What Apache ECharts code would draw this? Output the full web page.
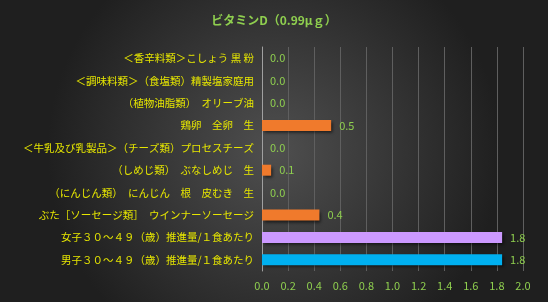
<!DOCTYPE html>
<html><head><meta charset="utf-8">
<script src="https://cdn.jsdelivr.net/npm/echarts@6/dist/echarts.min.js"></script>
<style>html,body{margin:0;padding:0;background:#333}#c{width:548px;height:302px}</style>
</head><body><div id="c"></div>
<script>
const titleText = 'ビタミンD（0.99μｇ）';
const categories = [
  '＜香辛料類＞こしょう 黒 粉',
  '＜調味料類＞（食塩類）精製塩家庭用',
  '（植物油脂類）　オリーブ油',
  '鶏卵　全卵　生',
  '＜牛乳及び乳製品＞（チーズ類）プロセスチーズ',
  '（しめじ類）　ぶなしめじ　生',
  '（にんじん類）　にんじん　根　皮むき　生',
  'ぶた［ソーセージ類］　ウインナーソーセージ',
  '女子３０～４９（歳）推進量/１食あたり',
  '男子３０～４９（歳）推進量/１食あたり'
];
const values = [0, 0, 0, 0.53, 0, 0.07, 0, 0.44, 1.84, 1.84];
const barColors = ['#f07a2c','#f07a2c','#f07a2c','#f07a2c','#f07a2c','#f07a2c','#f07a2c','#f07a2c','#cc99ff','#00b0f0'];
const xTicks = [0, 0.2, 0.4, 0.6, 0.8, 1.0, 1.2, 1.4, 1.6, 1.8, 2.0];

const chart = echarts.init(document.getElementById('c'));
chart.setOption({
  backgroundColor: {
    type: 'radial', x: 0.5, y: 0.5, r: 0.75,
    colorStops: [{offset: 0, color: '#4f4f4f'}, {offset: 1, color: '#1f1f1f'}]
  },
  title: {
    text: titleText, left: 'center', top: 9,
    textStyle: {color: '#8fcf4f', fontSize: 12, fontWeight: 'bold', fontFamily: 'Noto Sans CJK JP'}
  },
  grid: {left: 262, right: 25, top: 47, bottom: 31, containLabel: false},
  xAxis: {
    type: 'value', min: xTicks[0], max: xTicks[xTicks.length - 1], interval: 0.2,
    axisLine: {show: false}, axisTick: {show: false},
    splitLine: {show: true, lineStyle: {color: '#5f5f5f', width: 1}},
    axisLabel: {color: '#8fcf4f', fontSize: 11, fontFamily: 'Noto Sans CJK JP', margin: 9,
      formatter: v => v.toFixed(1)}
  },
  yAxis: {
    type: 'category', data: categories, inverse: true,
    axisLine: {show: true, lineStyle: {color: '#a0a0a0'}}, axisTick: {show: false},
    axisLabel: {color: '#e6e600', fontSize: 10.5, fontFamily: 'Noto Sans CJK JP', margin: 8}
  },
  series: [{
    type: 'bar', barWidth: 11,
    data: values.map((v, i) => ({value: v, itemStyle: {color: barColors[i]}})),
    itemStyle: {shadowColor: 'rgba(0,0,0,0.6)', shadowBlur: 3, shadowOffsetX: 2, shadowOffsetY: 2},
    label: {show: true, position: 'right', distance: 8, color: '#8fcf4f', fontSize: 11,
      fontFamily: 'Noto Sans CJK JP', formatter: p => p.value.toFixed(1)},
    animation: false
  }],
  animation: false
});
</script></body></html>
